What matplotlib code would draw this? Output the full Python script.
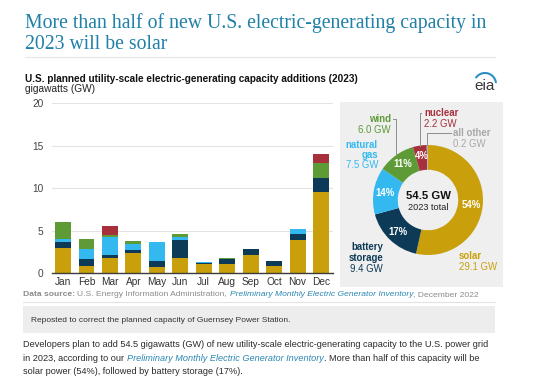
"""EIA: U.S. planned utility-scale electric-generating capacity additions (2023)."""

import matplotlib

matplotlib.use("Agg")
import matplotlib.pyplot as plt
import numpy as np
from matplotlib.patches import Rectangle

plt.rcParams["font.family"] = ["Liberation Sans", "DejaVu Sans"]

# monthly additions, GW (stacked bottom -> top)
months = ["Jan", "Feb", "Mar", "Apr", "May", "Jun", "Jul", "Aug", "Sep", "Oct", "Nov", "Dec"]
solar = [3.0, 0.85, 1.8, 2.35, 0.8, 1.8, 1.1, 1.1, 2.2, 0.85, 3.9, 9.6]
battery = [0.7, 0.8, 0.3, 0.4, 0.65, 2.1, 0.1, 0.55, 0.7, 0.6, 0.7, 1.65]
gas = [0.3, 1.25, 2.2, 0.65, 2.2, 0.35, 0.1, 0.0, 0.0, 0.0, 0.65, 0.0]
wind = [2.0, 1.15, 0.15, 0.45, 0.0, 0.35, 0.0, 0.15, 0.0, 0.0, 0.0, 1.7]
nuclear = [0.0, 0.0, 1.15, 0.0, 0.0, 0.0, 0.0, 0.0, 0.0, 0.0, 0.0, 1.1]

# annual totals for the donut (clockwise from 12 o'clock)
share_names = ["solar", "battery\nstorage", "natural\ngas", "wind", "nuclear", "all other"]
share_gw = [29.1, 9.4, 7.5, 6.0, 2.2, 0.2]
share_pct = ["54%", "17%", "14%", "11%", "4%", ""]
total_gw = 54.5

C_SOLAR = "#C9A00B"
C_BATT = "#0D3A57"
C_GAS = "#33B9F0"
C_WIND = "#5E9B37"
C_NUC = "#A82F3C"
C_OTHER = "#B3B3B3"
TEAL = "#1F80A8"
W, H = 540, 389


def box(x0, y0, x1, y1):
    """pixel box (top-left origin) -> figure fraction rect"""
    return [x0 / W, 1 - y1 / H, (x1 - x0) / W, (y1 - y0) / H]


fig = plt.figure(figsize=(W / 100, H / 100), dpi=100)

# full-figure canvas in pixel units for text and panels
cv = fig.add_axes([0, 0, 1, 1])
cv.set_xlim(0, W)
cv.set_ylim(H, 0)
cv.axis("off")

cv.text(25, 28, "More than half of new U.S. electric-generating capacity in",
        family="Liberation Serif", fontsize=14.2, color=TEAL, va="baseline")
cv.text(25, 49, "2023 will be solar", family="Liberation Serif", fontsize=14.2,
        color=TEAL, va="baseline")
cv.plot([25, 495], [57, 57], color="#E6E6E6", lw=0.8)
cv.text(25, 81.5, "U.S. planned utility-scale electric-generating capacity additions (2023)",
        fontsize=7.2, fontweight="bold", color="#111111", va="baseline")
cv.text(25, 92, "gigawatts (GW)", fontsize=7.3, color="#222222", va="baseline")

# eia logo
cv.text(485, 90, "eia", fontsize=11, color="#3A3A3A", ha="center", va="baseline")
t = np.linspace(0.05, 0.8, 30) * np.pi
cv.plot(485 + 11 * np.cos(t), 84 - 11 * np.sin(t), color="#2C8FC4", lw=1.5,
        solid_capstyle="round")

# donut panel background
cv.add_patch(Rectangle((340, 102), 163, 185, facecolor="#EFEFEF", edgecolor="none"))

# footer
cv.add_patch(Rectangle((23, 306), 472, 27, facecolor="#EDEDED", edgecolor="none"))
cv.plot([23, 495], [301.5, 301.5], color="#E2E2E2", lw=0.8)
cv.text(31, 321.5, "Reposted to correct the planned capacity of Guernsey Power Station.",
        fontsize=6.05, color="#333333", va="baseline")


def run(x, y, parts, size):
    prev = cv.text(x, y, parts[0][0], fontsize=size, va="baseline", **parts[0][1])
    for text, kw in parts[1:]:
        prev = cv.annotate(text, xy=(1, 0), xycoords=prev, va="bottom", ha="left",
                           fontsize=size, **kw)


GRAY = {"color": "#8A8A8A"}
LINK = {"color": "#2A86B3", "style": "italic"}
run(23, 296, [("Data source: ", {"color": "#8A8A8A", "fontweight": "bold"}),
              ("U.S. Energy Information Administration, ", GRAY),
              ("Preliminary Monthly Electric Generator Inventory", LINK),
              (", December 2022", GRAY)], 6.1)

BODY = {"color": "#2A2A2A"}
run(23, 347, [("Developers plan to add 54.5 gigawatts (GW) of new utility-scale "
               "electric-generating capacity to the U.S. power grid", BODY)], 6.6)
run(23, 361, [("in 2023, according to our ", BODY),
              ("Preliminary Monthly Electric Generator Inventory", LINK),
              (". More than half of this capacity will be", BODY)], 6.6)
run(23, 374, [("solar power (54%), followed by battery storage (17%).", BODY)], 6.6)

# stacked monthly bars
ax = fig.add_axes(box(52, 103.3, 333, 273.3))
ax.set_facecolor("none")
x = np.arange(len(months))
bottom = np.zeros(len(months))
for vals, col in [(solar, C_SOLAR), (battery, C_BATT), (gas, C_GAS),
                  (wind, C_WIND), (nuclear, C_NUC)]:
    ax.bar(x, vals, bottom=bottom, width=0.68, color=col, linewidth=0)
    bottom += np.array(vals)
ax.set_xlim(-0.47, 11.51)
ax.set_ylim(0, 20)
ax.set_yticks([0, 5, 10, 15, 20])
ax.set_xticks(x, months)
ax.grid(axis="y", color="#E3E3E3", lw=0.8)
ax.set_axisbelow(True)
for side in ["top", "right", "left"]:
    ax.spines[side].set_visible(False)
ax.spines["bottom"].set_color("#3C3C3C")
ax.spines["bottom"].set_linewidth(1.0)
ax.tick_params(axis="y", length=0, pad=6, labelsize=7.3, labelcolor="#444444")
ax.tick_params(axis="x", length=0, pad=3, labelsize=7.3, labelcolor="#333333")

# donut
CX, CY, R = 428, 200, 55
dx = fig.add_axes(box(CX - 60, CY - 60, CX + 60, CY + 60))
dx.set_facecolor("none")
wedges, _, autotexts = dx.pie(
    share_gw, colors=[C_SOLAR, C_BATT, C_GAS, C_WIND, C_NUC, C_OTHER],
    startangle=90, counterclock=False, radius=1.0, autopct="%d", pctdistance=0.8,
    wedgeprops={"width": 0.45, "linewidth": 0},
)
for txt, lab in zip(autotexts, share_pct):
    txt.set_text(lab)
    txt.set_color("white")
    txt.set_fontweight("bold")
    txt.set_fontsize(6.9)
lim = 60 / R
dx.set_xlim(-lim, lim)
dx.set_ylim(-lim, lim)
dx.set_aspect("equal")
dx.axis("off")

cv.text(CX, 196, f"{total_gw} GW", fontsize=8.2, fontweight="bold", color="#111111",
        ha="center", va="center")
cv.text(CX, 207.5, "2023 total", fontsize=6.6, color="#222222", ha="center", va="center")


def mid_edge(w):
    a = np.deg2rad((w.theta1 + w.theta2) / 2)
    return np.cos(a), np.sin(a)


def to_d(px, py):
    return (px - CX) / R, (CY - py) / R


leader = {"color": "#8C8C8C", "lw": 0.7, "clip_on": False}
# wind: elbow to the left
ex, ey = mid_edge(wedges[3])
lx, ly = to_d(393, 119)
dx.plot([lx, ex, ex], [ly, ly, ey], **leader)
# nuclear: elbow to the right
ex, ey = mid_edge(wedges[4])
lx, ly = to_d(421, 113)
dx.plot([lx, ex, ex], [ly, ly, ey], **leader)
# all other: elbow to the right
ex, ey = mid_edge(wedges[5])
lx, ly = to_d(451, 133)
dx.plot([lx, ex, ex], [ly, ly, ey], **leader)

lab_kw = {"fontsize": 6.9, "fontweight": "bold", "va": "center", "linespacing": 1.05}
val_kw = {"fontsize": 6.9, "va": "center"}
cv.text(391, 119, share_names[3], color=C_WIND, ha="right", **lab_kw)
cv.text(391, 130, f"{share_gw[3]} GW", color=C_WIND, ha="right", **val_kw)
cv.text(424, 113, share_names[4], color=C_NUC, ha="left", **lab_kw)
cv.text(424, 123.5, f"{share_gw[4]} GW", color=C_NUC, ha="left", **val_kw)
cv.text(453, 133, share_names[5], color="#A8A8A8", ha="left", **lab_kw)
cv.text(453, 144, f"{share_gw[5]} GW", color="#A8A8A8", ha="left", **val_kw)
cv.text(378, 150, share_names[2], color=C_GAS, ha="right", **lab_kw)
cv.text(378, 165, f"{share_gw[2]} GW", color=C_GAS, ha="right", **val_kw)
cv.text(383, 252.5, share_names[1], color=C_BATT, ha="right", **lab_kw)
cv.text(383, 269, f"{share_gw[1]} GW", color=C_BATT, ha="right", **val_kw)
cv.text(459, 256, share_names[0], color=C_SOLAR, ha="left", **lab_kw)
cv.text(459, 267, f"{share_gw[0]} GW", color=C_SOLAR, ha="left", **val_kw)

fig.savefig("out.png", dpi=100)
